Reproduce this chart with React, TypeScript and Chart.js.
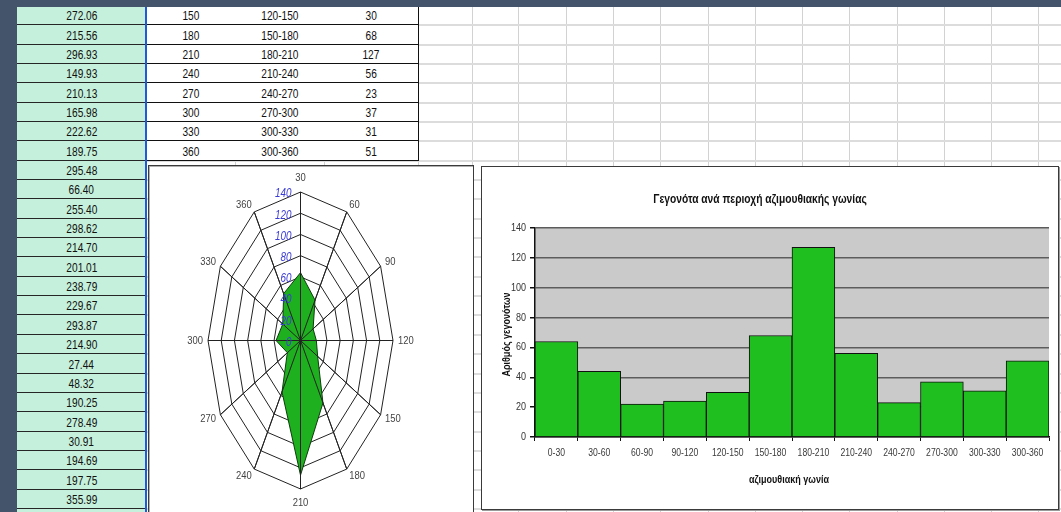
import React, { useEffect, useRef } from "react";
import { Chart, registerables, RadialLinearScale } from "chart.js";

Chart.register(...registerables);

// ---- data ----
const sectorRanges = ["0-30", "30-60", "60-90", "90-120", "120-150", "150-180", "180-210", "210-240", "240-270", "270-300", "300-330", "300-360"];
const sectorEnds = ["30", "60", "90", "120", "150", "180", "210", "240", "270", "300", "330", "360"];
const eventCounts = [64, 44, 22, 24, 30, 68, 127, 56, 23, 37, 31, 51];
const azimuthReadings = [272.06, 215.56, 296.93, 149.93, 210.13, 165.98, 222.62, 189.75, 295.48, 66.4, 255.4, 298.62, 214.7, 201.01, 238.79, 229.67, 293.87, 214.9, 27.44, 48.32, 190.25, 278.49, 30.91, 194.69, 197.75, 355.99];
const COUNT_MIN = 0;
const COUNT_MAX = 140;
const COUNT_STEP = 20;
const TABLE_FIRST_SECTOR = 4;
const chartTitle = "Γεγονότα ανά περιοχή αζιμουθιακής γωνίας";
const xAxisTitle = "αζιμουθιακή γωνία";
const yAxisTitle = "Αριθμός γεγονότων";

// ---- styling ----
const FONT = "'Liberation Sans', Arial, sans-serif";
const SQUEEZE = 0.82; // horizontal squeeze for the narrow lettering
const CELL_SQUEEZE = 0.78;
const FRAME = "#44546a";
const CELL_GREEN = "#c5f0db";
const BAR_GREEN = "#1fbf1f";
const RADAR_GREEN = "#1fb01f";
const ROW_TOP = 5.85;
const ROW_H = 19.35;
const gridCols = [418, 472, 518, 566, 613, 660, 708, 755, 802, 849, 897, 944, 991, 1038];
const tableCols = [146, 235, 324, 418];

const rowTop = (k: number) => Math.round(ROW_TOP + k * ROW_H);

function narrowText(
  ctx: CanvasRenderingContext2D,
  text: string,
  x: number,
  y: number,
  font: string,
  color: string,
  align: CanvasTextAlign,
  baseline: CanvasTextBaseline,
  rotate = 0
) {
  ctx.save();
  ctx.translate(x, y);
  if (rotate) ctx.rotate(rotate);
  ctx.scale(SQUEEZE, 1);
  ctx.font = font;
  ctx.fillStyle = color;
  ctx.textAlign = align;
  ctx.textBaseline = baseline;
  ctx.fillText(text, 0, 0);
  ctx.restore();
}

// Radial scale whose vertical axis is stretched, giving an elliptical web
const STRETCH = 1.605;
class EllipticRadialScale extends RadialLinearScale {
  static id = "ellipticRadial";
  fit() {
    this.xCenter = this.left + this.width / 2;
    this.yCenter = this.top + this.height / 2;
    this.drawingArea = Math.min(this.width / 2, this.height / (2 * STRETCH));
  }
  getPointPosition(index: number, distance: number, additionalAngle = 0) {
    const p = super.getPointPosition(index, distance, additionalAngle);
    return { x: p.x, y: this.yCenter + (p.y - this.yCenter) * STRETCH, angle: p.angle };
  }
}
Chart.register(EllipticRadialScale as any);

const radarDecor = {
  id: "radarDecor",
  afterDatasetsDraw(chart: any) {
    const s = chart.scales.r;
    const ctx = chart.ctx;
    const n = chart.data.labels.length;
    ctx.save();
    // spokes stay visible over the filled area
    ctx.strokeStyle = "#222";
    ctx.lineWidth = 1;
    for (let i = 0; i < n; i++) {
      const p = s.getPointPositionForValue(i, s.max);
      ctx.beginPath();
      ctx.moveTo(s.xCenter, s.yCenter);
      ctx.lineTo(p.x, p.y);
      ctx.stroke();
    }
    ctx.restore();
    // category labels round the web
    chart.data.labels.forEach((lab: string, i: number) => {
      const p = s.getPointPosition(i, s.drawingArea + 5);
      const dx = p.x - s.xCenter;
      const dy = p.y - s.yCenter;
      const onAxis = Math.abs(dx) < 1;
      narrowText(
        ctx,
        lab,
        p.x,
        p.y,
        `11.5px ${FONT}`,
        "#444",
        onAxis ? "center" : dx > 0 ? "left" : "right",
        onAxis ? (dy < 0 ? "bottom" : "top") : "middle"
      );
    });
    // value labels along the first spoke
    s.ticks.forEach((t: any) => {
      const p = s.getPointPositionForValue(0, t.value);
      narrowText(ctx, String(t.value), p.x - 9, p.y + 2, `italic 12px ${FONT}`, "#3b3bd6", "right", "middle");
    });
  },
};

const barDecor = {
  id: "barDecor",
  beforeDraw(chart: any) {
    const { ctx, chartArea: a } = chart;
    ctx.save();
    ctx.fillStyle = "#cacaca";
    ctx.fillRect(a.left, a.top, a.right - a.left, a.bottom - a.top);
    ctx.restore();
  },
  afterDraw(chart: any) {
    const { ctx, chartArea: a, scales } = chart;
    const xs = scales.x;
    const ys = scales.y;
    narrowText(ctx, chartTitle, 278, 33, `bold 12.5px ${FONT}`, "#111", "center", "middle");
    ys.ticks.forEach((t: any) => {
      narrowText(ctx, String(t.value), a.left - 9, ys.getPixelForValue(t.value), `11px ${FONT}`, "#333", "right", "middle");
    });
    chart.data.labels.forEach((lab: string, i: number) => {
      narrowText(ctx, lab, xs.getPixelForValue(i), a.bottom + 11, `10.5px ${FONT}`, "#3a3a3a", "center", "top");
    });
    narrowText(ctx, xAxisTitle, (a.left + a.right) / 2 - 3, 313, `bold 11px ${FONT}`, "#111", "center", "middle");
    narrowText(ctx, yAxisTitle, 25, (a.top + a.bottom) / 2 + 2, `bold 11px ${FONT}`, "#111", "center", "middle", -Math.PI / 2);
  },
};

function RadarPanel() {
  const ref = useRef<HTMLCanvasElement>(null);
  useEffect(() => {
    const chart = new Chart(ref.current!, {
      type: "radar",
      data: {
        labels: sectorEnds,
        datasets: [
          {
            data: eventCounts,
            backgroundColor: RADAR_GREEN,
            borderColor: "#0d3d0d",
            borderWidth: 1,
            pointRadius: 0,
            fill: true,
          },
        ],
      },
      options: {
        responsive: false,
        animation: false,
        layout: { padding: { left: 59, right: 81, top: 26, bottom: 23 } },
        plugins: { legend: { display: false }, tooltip: { enabled: false } },
        scales: {
          r: {
            type: "ellipticRadial",
            min: COUNT_MIN,
            max: COUNT_MAX,
            ticks: { stepSize: COUNT_STEP, display: false },
            pointLabels: { display: false },
            grid: { color: "#222", lineWidth: 1 },
            angleLines: { color: "#222", lineWidth: 1 },
          },
        } as any,
      },
      plugins: [radarDecor],
    });
    return () => chart.destroy();
  }, []);
  return (
    <canvas
      ref={ref}
      width={325}
      height={346}
      style={{ position: "absolute", left: 149, top: 166, width: 325, height: 346 }}
    />
  );
}

function BarPanel() {
  const ref = useRef<HTMLCanvasElement>(null);
  useEffect(() => {
    const chart = new Chart(ref.current!, {
      type: "bar",
      data: {
        labels: sectorRanges,
        datasets: [
          {
            data: eventCounts,
            backgroundColor: BAR_GREEN,
            borderColor: "#111",
            borderWidth: 1,
            barPercentage: 1,
            categoryPercentage: 1,
          },
        ],
      },
      options: {
        responsive: false,
        animation: false,
        layout: { padding: { left: 0, right: 8, top: 61, bottom: 0 } },
        plugins: { legend: { display: false }, tooltip: { enabled: false }, title: { display: false } },
        scales: {
          x: {
            grid: { display: true, drawOnChartArea: false, drawTicks: true, tickLength: 4, color: "#111", offset: true },
            border: { color: "#111", width: 1.5 },
            ticks: { display: false },
            afterFit: (s: any) => {
              s.height = 72;
            },
          },
          y: {
            min: COUNT_MIN,
            max: COUNT_MAX,
            ticks: { stepSize: COUNT_STEP, display: false },
            grid: { color: "#5c5c5c", lineWidth: 1.5, tickLength: 5, tickColor: "#111" },
            border: { color: "#111", width: 1.5 },
            afterFit: (s: any) => {
              s.width = 53;
            },
          },
        } as any,
      },
      plugins: [barDecor],
    });
    return () => chart.destroy();
  }, []);
  return (
    <canvas
      ref={ref}
      width={575}
      height={342}
      style={{ position: "absolute", left: 482, top: 167, width: 575, height: 342 }}
    />
  );
}

const cellBox: React.CSSProperties = {
  position: "absolute",
  boxSizing: "border-box",
  display: "flex",
  alignItems: "center",
  justifyContent: "center",
  overflow: "hidden",
};

function CellText({ children }: { children: React.ReactNode }) {
  return (
    <span
      style={{
        display: "inline-block",
        fontFamily: FONT,
        fontSize: 13,
        color: "#111",
        whiteSpace: "nowrap",
        transform: `scaleX(${CELL_SQUEEZE})`,
        lineHeight: 1,
        marginTop: 1,
      }}
    >
      {children}
    </span>
  );
}

function Sheet() {
  const items: React.ReactNode[] = [];
  const rowCount = 27;
  // light grid lines
  gridCols.forEach((x, i) =>
    items.push(<div key={"gv" + i} style={{ position: "absolute", left: x, top: 0, width: 1, height: 512, background: "#d2d2d2" }} />)
  );
  [tableCols[1], tableCols[2]].forEach((x, i) =>
    items.push(<div key={"gb" + i} style={{ position: "absolute", left: x, top: 0, width: 1, height: 512, background: "#d2d2d2" }} />)
  );
  for (let k = 0; k < rowCount; k++) {
    items.push(<div key={"gh" + k} style={{ position: "absolute", left: 146, top: rowTop(k + 1) - 1, width: 915, height: 2, background: "#dcdcdc" }} />);
  }
  // column A readings
  for (let k = 0; k < rowCount; k++) {
    const v = azimuthReadings[k];
    const top = rowTop(k);
    items.push(
      <div
        key={"a" + k}
        style={{
          ...cellBox,
          left: 17,
          top,
          width: 129,
          height: rowTop(k + 1) - top + 1,
          background: CELL_GREEN,
          borderBottom: "2px solid #262626",
        }}
      >
        <CellText>{v !== undefined ? v.toFixed(2) : ""}</CellText>
      </div>
    );
  }
  // sector table
  for (let k = 0; k + TABLE_FIRST_SECTOR < sectorRanges.length; k++) {
    const idx = k + TABLE_FIRST_SECTOR;
    const vals = [sectorEnds[idx], sectorRanges[idx], String(eventCounts[idx])];
    const top = rowTop(k);
    vals.forEach((t, c) =>
      items.push(
        <div
          key={"t" + k + "_" + c}
          style={{
            ...cellBox,
            left: tableCols[c],
            top,
            width: tableCols[c + 1] - tableCols[c] + 1,
            height: rowTop(k + 1) - top,
            background: "#fff",
            borderBottom: "1px solid #111",
            borderRight: "1px solid #111",
          }}
        >
          <CellText>{t}</CellText>
        </div>
      )
    );
  }
  return <>{items}</>;
}

export default function App() {
  useEffect(() => {
    document.body.style.margin = "0";
  }, []);
  return (
    <div style={{ position: "fixed", left: 0, top: 0, width: 1061, height: 512, overflow: "hidden", background: "#fff" }}>
      <Sheet />
      {/* column A selection edge */}
      <div style={{ position: "absolute", left: 145, top: 0, width: 2, height: 512, background: "#1f5ad8" }} />
      {/* chart frames */}
      <div
        style={{
          position: "absolute",
          left: 148,
          top: 165,
          width: 326,
          height: 360,
          background: "#fff",
          border: "1px solid #3a3a3a",
          boxShadow: "inset 1px 1px 0 #b0b0b0",
          boxSizing: "border-box",
        }}
      />
      <div
        style={{
          position: "absolute",
          left: 481,
          top: 166,
          width: 578,
          height: 344,
          background: "#fff",
          border: "1px solid #3a3a3a",
          boxShadow: "1px 1px 0 #9a9a9a",
          boxSizing: "border-box",
        }}
      />
      <RadarPanel />
      <BarPanel />
      {/* window frame */}
      <div style={{ position: "absolute", left: 0, top: 0, width: 1061, height: 7, background: FRAME }} />
      <div style={{ position: "absolute", left: 0, top: 0, width: 17, height: 512, background: FRAME }} />
    </div>
  );
}
